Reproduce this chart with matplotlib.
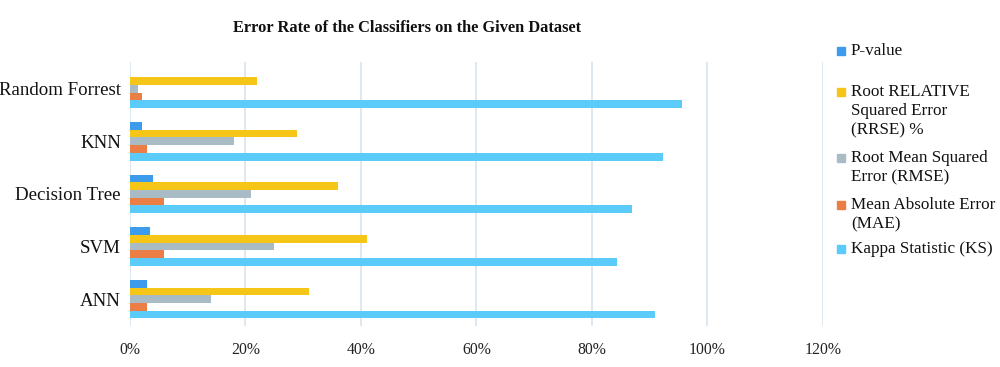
import matplotlib
matplotlib.use("Agg")
import matplotlib.pyplot as plt
import numpy as np
from matplotlib.patches import Rectangle

categories = ["ANN", "SVM", "Decision Tree", "KNN", "Random Forrest"]
series_names = ["Kappa Statistic (KS)", "Mean Absolute Error\n(MAE)",
                "Root Mean Squared\nError (RMSE)",
                "Root RELATIVE\nSquared Error\n(RRSE) %", "P-value"]
ks = [90.9, 84.4, 87.0, 92.3, 95.7]
mae = [2.9, 5.9, 5.9, 2.9, 2.0]
rmse = [14.0, 25.0, 21.0, 18.0, 1.45]
rrse = [31.0, 41.0, 36.0, 28.9, 22.0]
pval = [2.9, 3.5, 3.9, 2.0, 0.0]
series_values = [ks, mae, rmse, rrse, pval]
colors = ["#5BCBFA", "#EB7E45", "#A9BCC6", "#F5C518", "#3C9BEB"]
xticks = [0, 20, 40, 60, 80, 100, 120]
xticklabels = ["0%", "20%", "40%", "60%", "80%", "100%", "120%"]

plt.rcParams['font.family'] = ['Liberation Serif', 'DejaVu Serif']

fig = plt.figure(figsize=(10, 3.67), dpi=100)
ax = fig.add_axes([0.13, 0.113, 0.6927, 0.717])

n = len(series_values)
bw = 0.146
y = np.arange(len(categories))
for i, (vals, col) in enumerate(zip(series_values, colors)):
    offs = (i - (n - 1) / 2) * bw
    ax.barh(y + offs, vals, height=bw, color=col, zorder=3)

ax.set_xlim(0, 120)
ax.set_ylim(-0.5, len(categories) - 0.5)
ax.set_xticks(xticks)
ax.set_xticklabels(xticklabels, fontsize=11.3, color="#222222")
ax.set_yticks(y)
ax.set_yticklabels(categories, fontsize=13.6, color="#111111")
ax.tick_params(axis='both', length=0)
ax.tick_params(axis='x', pad=11.5)
ax.tick_params(axis='y', pad=6.5)
for s in ax.spines.values():
    s.set_visible(False)
ax.grid(axis='x', color="#D9E4EC", linewidth=1.2, zorder=0)

fig.text(0.407, 1 - 28 / 367, "Error Rate of the Classifiers on the Given Dataset",
         ha='center', va='center', fontsize=11.8, fontweight='bold', color="#111111")

# legend (manual, top to bottom)
H = 367.0
leg_items = [(4, 50.7, 50.7), (3, 91.7, 111.0), (2, 158.3, 168.0),
             (1, 205.0, 214.5), (0, 249.0, 249.0)]
for idx, my, ty in leg_items:
    fig.patches.append(Rectangle((837 / 1000, 1 - (my + 4) / H), 8 / 1000, 8 / H,
                                 transform=fig.transFigure, color=colors[idx]))
    fig.text(851 / 1000, 1 - ty / H, series_names[idx], ha='left', va='center',
             fontsize=12.3, linespacing=1.26, color="#111111")

fig.savefig("out.png", dpi=100)
